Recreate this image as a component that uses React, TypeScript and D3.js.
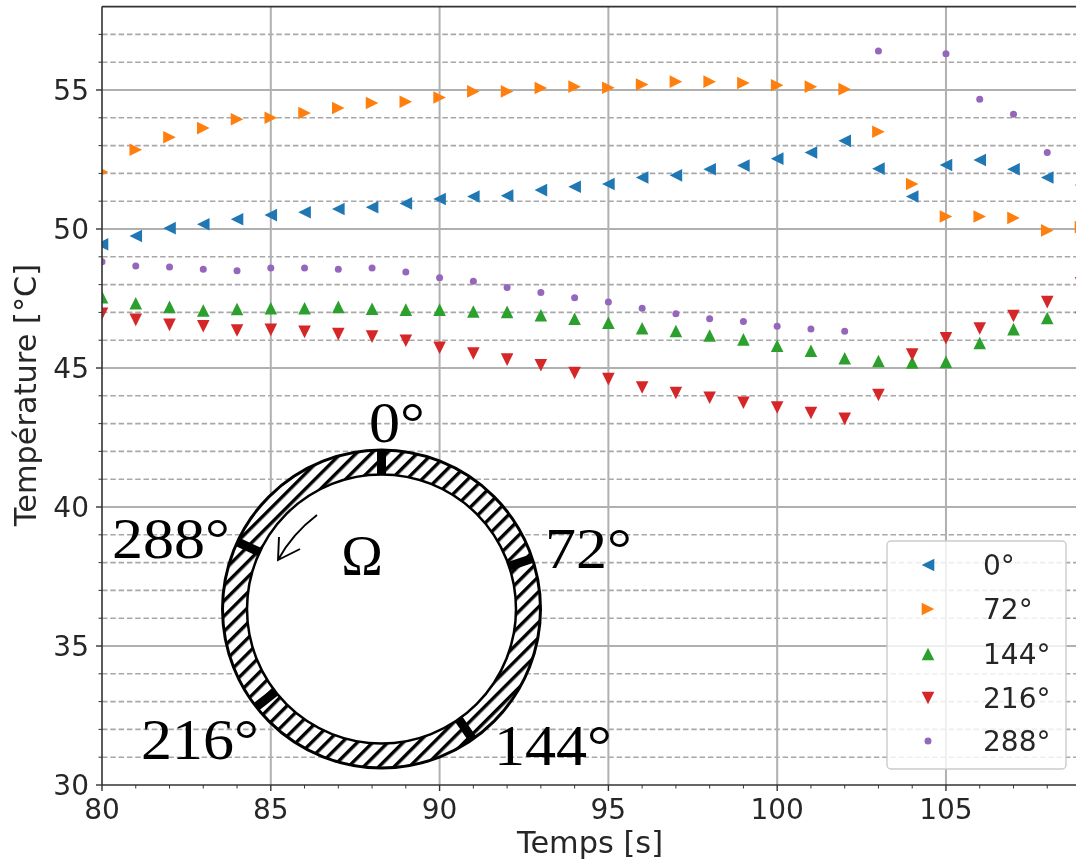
import React from "react";
import * as d3 from "d3";

const times = d3.range(80, 110);
const series0 = [49.45,49.75,50.03,50.17,50.35,50.5,50.6,50.72,50.78,50.92,51.08,51.17,51.2,51.4,51.52,51.62,51.85,51.93,52.15,52.28,52.53,52.75,53.17,52.17,51.17,52.3,52.48,52.15,51.85,51.58];
const series72 = [52.05,52.85,53.3,53.63,53.95,54.0,54.17,54.35,54.53,54.58,54.73,54.95,54.95,55.07,55.12,55.08,55.2,55.3,55.3,55.25,55.17,55.12,55.03,53.5,51.62,50.45,50.45,50.4,49.95,50.07];
const series144 = [47.55,47.33,47.2,47.07,47.12,47.15,47.15,47.2,47.13,47.1,47.1,47.03,47.02,46.9,46.77,46.63,46.43,46.33,46.17,46.03,45.8,45.62,45.35,45.25,45.2,45.22,45.9,46.4,46.8,47.2];
const series216 = [46.95,46.73,46.55,46.5,46.35,46.37,46.3,46.22,46.13,45.98,45.73,45.52,45.3,45.1,44.82,44.6,44.3,44.1,43.93,43.75,43.58,43.38,43.17,44.03,45.48,46.07,46.42,46.87,47.37,48.05];
const series288: (number | null)[] = [48.82,48.67,48.63,48.55,48.5,48.6,48.6,48.55,48.6,48.45,48.25,48.12,47.9,47.72,47.53,47.37,47.15,46.95,46.77,46.67,46.5,46.4,46.32,56.4,null,56.3,54.67,54.13,52.75,null];

const seriesLabels = ["0°", "72°", "144°", "216°", "288°"];
const seriesColors = ["#1f77b4", "#ff7f0e", "#2ca02c", "#d62728", "#9467bd"];
const seriesShapes = ["left", "right", "up", "down", "dot"];
const seriesValues = [series0, series72, series144, series216, series288];

const xMajor = [80, 85, 90, 95, 100, 105];
const yMajor = [30, 35, 40, 45, 50, 55];
const xMinor = d3.range(80, 110).filter((v) => v % 5 !== 0);
const yMinor = d3.range(31, 58).filter((v) => v % 5 !== 0);

const sensorAngles = [0, 71.5, 145, 232, 295];
const ringLabels = [
  { text: "0°", x: 369, y: 442 },
  { text: "72°", x: 545, y: 568 },
  { text: "144°", x: 494, y: 765 },
  { text: "216°", x: 141, y: 759 },
  { text: "288°", x: 112, y: 558 },
];

const W = 1076;
const H = 866;
const L = 102;
const R = 1081;
const T = 6.6;
const B = 785;
const x = d3.scaleLinear().domain([80, 109]).range([L, R]);
const y = d3.scaleLinear().domain([30, 58]).range([B, T]);

const SANS = "'DejaVu Sans', sans-serif";
const SERIF = "'Liberation Serif', serif";
const TEXT = "#262626";

function markerPath(shape: string, s: number) {
  const pts: Record<string, number[][]> = {
    up: [[0, -s], [-s, s], [s, s]],
    down: [[0, s], [-s, -s], [s, -s]],
    left: [[-s, 0], [s, -s], [s, s]],
    right: [[s, 0], [-s, -s], [-s, s]],
  };
  return d3.line()(pts[shape] as [number, number][]) + "Z";
}

function Marker({ shape, color, cx, cy }: { shape: string; color: string; cx: number; cy: number }) {
  if (shape === "dot") return <circle cx={cx} cy={cy} r={3.5} fill={color} />;
  return <path d={markerPath(shape, 6.3)} transform={`translate(${cx},${cy})`} fill={color} />;
}

const RCX = 381.5;
const RCY = 609;
const ROUT = 159;
const RIN = 134.5;
const HATCH = 10.8;

export default function App() {
  const legendX = 928;
  const legendYs = [565, 609, 654, 698, 741];
  const ringPath = d3.arc()({ innerRadius: RIN, outerRadius: ROUT, startAngle: 0, endAngle: Math.PI * 2 }) as string;
  return (
    <svg width={W} height={H} style={{ position: "absolute", left: 0, top: 0, filter: "blur(0.55px)" }} fontFamily={SANS}>
      <defs>
        <clipPath id="plot"><rect x={L} y={T} width={W - L} height={B - T} /></clipPath>
        <pattern id="hatch" width={HATCH} height={HATCH} patternUnits="userSpaceOnUse" patternTransform="rotate(45)">
          <rect width={HATCH} height={HATCH} fill="#fff" />
          <rect x={0} y={0} width={3.4} height={HATCH} fill="#000" />
        </pattern>
      </defs>
      <rect width={W} height={H} fill="#fff" />

      {yMinor.map((v) => (
        <line key={v} x1={L} x2={W} y1={y(v)} y2={y(v)} stroke="#a8a8a8" strokeWidth={1.6} strokeDasharray="5.5 2.8" />
      ))}
      {yMajor.slice(1).map((v) => (
        <line key={v} x1={L} x2={W} y1={y(v)} y2={y(v)} stroke="#b0b0b0" strokeWidth={2} />
      ))}
      {xMajor.slice(1).map((v) => (
        <line key={v} x1={x(v)} x2={x(v)} y1={T} y2={B} stroke="#b0b0b0" strokeWidth={2} />
      ))}

      <g clipPath="url(#plot)">
        {seriesValues.map((vals, i) =>
          vals.map((v, j) =>
            v == null ? null : (
              <Marker key={`${i}-${j}`} shape={seriesShapes[i]} color={seriesColors[i]} cx={x(times[j])} cy={y(v)} />
            )
          )
        )}
      </g>

      <line x1={L} x2={L} y1={T} y2={B} stroke="#333" strokeWidth={1.6} />
      <line x1={L} x2={W} y1={T} y2={T} stroke="#333" strokeWidth={1.6} />
      <line x1={L} x2={W} y1={B} y2={B} stroke="#333" strokeWidth={1.6} />

      {yMajor.map((v) => (
        <g key={v}>
          <line x1={L - 6} x2={L} y1={y(v)} y2={y(v)} stroke="#333" strokeWidth={1.4} />
          <text x={L - 13} y={y(v) + 10} textAnchor="end" fontSize={28} fill={TEXT}>{v}</text>
        </g>
      ))}
      {yMinor.map((v) => (
        <line key={v} x1={L - 3.5} x2={L} y1={y(v)} y2={y(v)} stroke="#333" strokeWidth={1} />
      ))}
      {xMajor.map((v) => (
        <g key={v}>
          <line x1={x(v)} x2={x(v)} y1={B} y2={B + 6} stroke="#333" strokeWidth={1.4} />
          <text x={x(v)} y={B + 34} textAnchor="middle" fontSize={28} fill={TEXT}>{v}</text>
        </g>
      ))}
      {xMinor.map((v) => (
        <line key={v} x1={x(v)} x2={x(v)} y1={B} y2={B + 3.5} stroke="#333" strokeWidth={1} />
      ))}
      <text x={590} y={853} textAnchor="middle" fontSize={30.4} fill={TEXT}>Temps [s]</text>
      <text transform="translate(36,395) rotate(-90)" textAnchor="middle" fontSize={30.4} fill={TEXT}>Température [°C]</text>

      <rect x={887} y={541} width={179} height={228} rx={4} fill="#fff" fillOpacity={0.8} stroke="#ccc" strokeWidth={1.4} />
      {seriesLabels.map((lab, i) => (
        <g key={lab}>
          <Marker shape={seriesShapes[i]} color={seriesColors[i]} cx={legendX} cy={legendYs[i]} />
          <text x={983} y={legendYs[i] + 10} fontSize={28} fill={TEXT}>{lab}</text>
        </g>
      ))}

      <g>
        <circle cx={RCX} cy={RCY} r={RIN} fill="#fff" />
        <path d={ringPath} transform={`translate(${RCX},${RCY})`} fill="url(#hatch)" fillRule="evenodd" />
        <circle cx={RCX} cy={RCY} r={ROUT} fill="none" stroke="#000" strokeWidth={3} />
        <circle cx={RCX} cy={RCY} r={RIN} fill="none" stroke="#000" strokeWidth={2.5} />
        {sensorAngles.map((a) => (
          <rect key={a} x={RCX - 4.5} y={RCY - ROUT} width={9} height={ROUT - RIN}
            transform={`rotate(${a} ${RCX} ${RCY})`} fill="#000" />
        ))}
        <path d="M317,515 Q292,534 278,560 M279,537 L278,560 L300,549" fill="none" stroke="#000" strokeWidth={1.9} />
        <text x={362} y={575} textAnchor="middle" fontFamily={SERIF} fontSize={56} fill="#000">Ω</text>
        {ringLabels.map((d) => (
          <text key={d.text} transform={`translate(${d.x},${d.y}) scale(1.07,1)`} fontFamily={SERIF} fontSize={58} fill="#000">{d.text}</text>
        ))}
      </g>
    </svg>
  );
}
